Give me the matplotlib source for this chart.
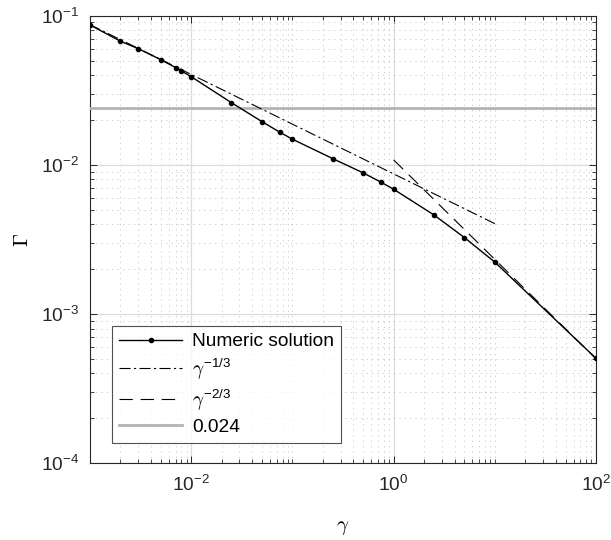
import numpy as np
import matplotlib
matplotlib.use("Agg")
import matplotlib.pyplot as plt
from matplotlib.ticker import FixedLocator, LogFormatterSciNotation, NullFormatter

plt.rcParams["font.family"] = ["Liberation Sans", "DejaVu Sans"]
plt.rcParams["mathtext.fontset"] = "cm"

# numeric solution
gamma = [1e-3, 2e-3, 3e-3, 5e-3, 7e-3, 8e-3, 1e-2, 2.5e-2, 5e-2, 7.5e-2, 0.1,
         0.25, 0.5, 0.75, 1.0, 2.5, 5.0, 10.0, 100.0]
Gamma = [0.0866, 0.0674, 0.0601, 0.0507, 0.0449, 0.0426, 0.0390, 0.0261, 0.0195,
         0.01656, 0.01486, 0.01102, 0.00884, 0.00766, 0.00687, 0.00462, 0.00326,
         0.00223, 0.000505]

# power-law guides
c13, x13 = 0.0087, [1e-3, 1e1]
c23, x23 = 0.0108, [1e0, 1e2]
level = 0.024

fig = plt.figure(figsize=(6.11, 5.40), dpi=100)
ax = fig.add_axes([0.1473, 0.142, 0.8282, 0.829])

ax.plot(gamma, Gamma, "-", color="black", lw=1.0, marker="o", ms=3.0,
        label="Numeric solution", zorder=5)
x13 = np.array(x13)
ax.plot(x13, c13 * x13 ** (-1 / 3), color="black", lw=0.8, ls=(0, (10, 3, 2, 3)),
        label=r"$\gamma^{\mathdefault{-1/3}}$", zorder=4)
x23 = np.array(x23)
ax.plot(x23, c23 * x23 ** (-2 / 3), color="black", lw=0.8, ls=(0, (12, 7)),
        label=r"$\gamma^{\mathdefault{-2/3}}$", zorder=4)
ax.axhline(level, color="#b3b3b3", lw=2.0, label="0.024", zorder=3)

ax.set_xscale("log")
ax.set_yscale("log")
ax.set_xlim(1e-3, 1e2)
ax.set_ylim(1e-4, 1e-1)

ax.xaxis.set_major_locator(FixedLocator([1e-2, 1e0, 1e2]))
xminor = [k * 10.0 ** n for n in range(-3, 2) for k in range(1, 10)]
xminor = [v for v in xminor if v not in (1e-2, 1e0)]
ax.xaxis.set_minor_locator(FixedLocator(xminor))
ax.xaxis.set_major_formatter(LogFormatterSciNotation())
ax.xaxis.set_minor_formatter(NullFormatter())

ax.yaxis.set_major_locator(FixedLocator([1e-4, 1e-3, 1e-2, 1e-1]))
yminor = [k * 10.0 ** n for n in range(-4, -1) for k in range(2, 10)]
ax.yaxis.set_minor_locator(FixedLocator(yminor))
ax.yaxis.set_minor_formatter(NullFormatter())

ax.grid(which="major", color="#dcdcdc", lw=0.9, ls="-")
ax.grid(which="minor", color="#c4c4c4", lw=0.6, ls=(0, (1.5, 5)))
ax.set_axisbelow(True)

ax.tick_params(which="both", direction="in", top=True, right=True,
               colors="#262626", labelcolor="#262626", labelsize=13.8)
ax.tick_params(which="major", length=5, width=0.7, pad=8)
ax.tick_params(which="minor", length=3, width=0.6)
for s in ax.spines.values():
    s.set_color("#262626")
    s.set_linewidth(0.8)

ax.set_xlabel(r"$\gamma$", fontsize=15, labelpad=17)
ax.set_ylabel(r"$\Gamma$", fontsize=15, labelpad=6)

leg = ax.legend(loc="lower left", bbox_to_anchor=(0.044, 0.046), borderaxespad=0,
                fontsize=13.8, frameon=True, fancybox=False, handlelength=3.3,
                labelspacing=0.3, handletextpad=0.5, borderpad=0.35)
leg.get_frame().set_edgecolor("#262626")
leg.get_frame().set_linewidth(0.8)

fig.savefig("out.png", dpi=100)
